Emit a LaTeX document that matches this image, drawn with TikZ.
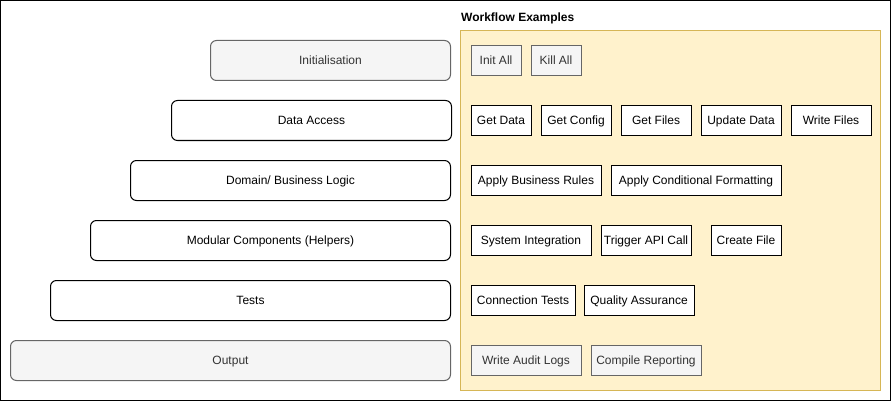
\documentclass[tikz,border=0pt]{standalone}
\usepackage{fontspec}
\setmainfont{Liberation Sans}
\definecolor{greyfill}{HTML}{F5F5F5}
\definecolor{greyline}{HTML}{666666}
\definecolor{greytext}{HTML}{333333}
\definecolor{wffill}{HTML}{FFF2CC}
\definecolor{wfline}{HTML}{D6B656}
\tikzset{
  layer/.style={draw,fill=white,rounded corners=6pt,line width=1pt,minimum height=40pt,inner sep=0pt,text height=8.8pt,text depth=1.6pt,font=\fontsize{12}{14}\selectfont},
  greylayer/.style={layer,draw=greyline,fill=greyfill,text=greytext},
  task/.style={draw,fill=white,line width=1pt,minimum height=30pt,inner sep=0pt,text height=8.8pt,text depth=1.6pt,anchor=west,font=\fontsize{12}{14}\selectfont},
  greytask/.style={task,draw=greyline,fill=greyfill,text=greytext}
}
\begin{document}
\begin{tikzpicture}[x=1pt,y=-1pt]
\useasboundingbox (0,0) rectangle (891,401);
\draw[line width=1pt] (0.5,0.5) rectangle (890.5,400.5); % outer frame
% layers on the left
\node[greylayer,minimum width=240pt] (init) at (330.5,60.5) {Initialisation};
\node[layer,minimum width=280pt] (data) at (311.5,120.5) {Data Access};
\node[layer,minimum width=320pt] (domain) at (290.5,180.5) {Domain/ Business Logic};
\node[layer,minimum width=360pt] (modular) at (270.5,240.5) {Modular Components (Helpers)};
\node[layer,minimum width=400pt] (tests) at (250.5,300.5) {Tests};
\node[greylayer,minimum width=440pt] (output) at (230.5,360.5) {Output};
% workflow examples
\draw[line width=1pt,draw=wfline,fill=wffill] (460.5,30.5) rectangle (880.5,390.5);
\node[anchor=west,inner sep=0pt,font=\fontsize{12}{14}\selectfont\bfseries] (wftitle) at (461,18.5) {Workflow Examples};
\node[greytask,minimum width=50pt] (initall) at (470.5,60.5) {Init All};
\node[greytask,minimum width=50pt] (killall) at (530.5,60.5) {Kill All};
\node[task,minimum width=60pt] (getdata) at (470.5,120.5) {Get Data};
\node[task,minimum width=70pt] (getconfig) at (540.5,120.5) {Get Config};
\node[task,minimum width=70pt] (getfiles) at (620.5,120.5) {Get Files};
\node[task,minimum width=80pt] (updatedata) at (700.5,120.5) {Update Data};
\node[task,minimum width=80pt] (writefiles) at (790.5,120.5) {Write Files};
\node[task,minimum width=130pt] (rules) at (470.5,180.5) {Apply Business Rules};
\node[task,minimum width=170pt] (formatting) at (610.5,180.5) {Apply Conditional Formatting};
\node[task,minimum width=120pt] (sysint) at (470.5,240.5) {System Integration};
\node[task,minimum width=90pt] (apicall) at (600.5,240.5) {Trigger API Call};
\node[task,minimum width=70pt] (createfile) at (710.5,240.5) {Create File};
\node[task,minimum width=104pt] (conntests) at (470.5,300.5) {Connection Tests};
\node[task,minimum width=110pt] (qa) at (583.5,300.5) {Quality Assurance};
\node[greytask,minimum width=110pt] (auditlogs) at (470.5,360.5) {Write Audit Logs};
\node[greytask,minimum width=110pt] (reporting) at (590.5,360.5) {Compile Reporting};
\end{tikzpicture}
\end{document}
